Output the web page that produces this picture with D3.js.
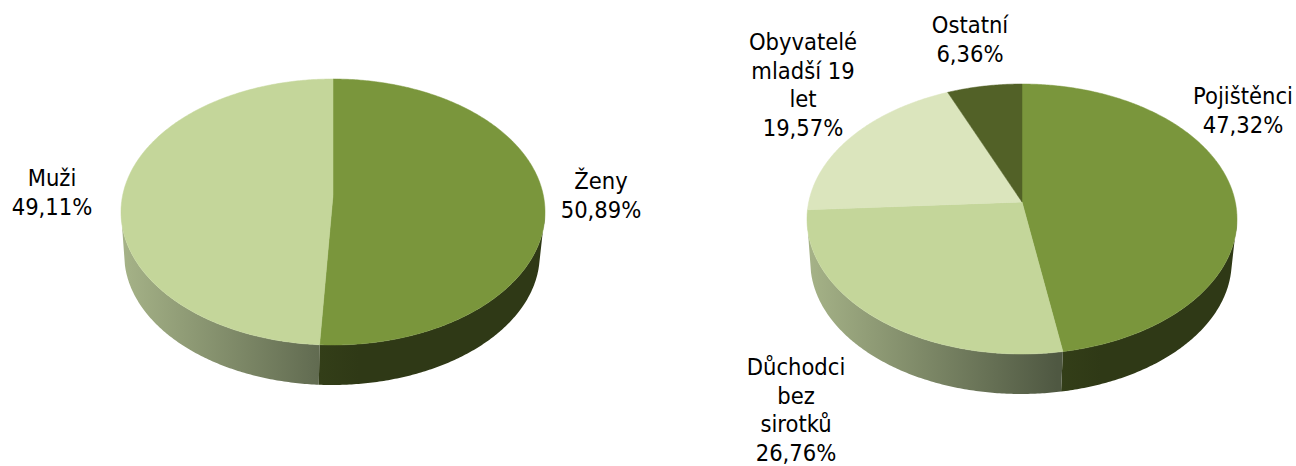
<!DOCTYPE html>
<html>
<head>
<meta charset="utf-8">
<script src="https://cdn.jsdelivr.net/npm/d3@7"></script>
<style>
  html, body { margin: 0; padding: 0; background: #fff; }
  svg { display: block; }
  text { font-family: "DejaVu Sans Condensed", "DejaVu Sans", sans-serif; font-stretch: condensed; font-size: 23.5px; fill: #000; text-anchor: middle; }
</style>
</head>
<body>
<svg width="1296" height="466"></svg>
<script>
// data, clockwise from 12 o'clock
const genderNames = [["Ženy"], ["Muži"]];
const genderValues = [50.89, 49.11];
const groupNames = [["Pojištěnci"], ["Důchodci", "bez", "sirotků"], ["Obyvatelé", "mladší 19", "let"], ["Ostatní"]];
const groupValues = [47.32, 26.76, 19.57, 6.36];

// layout: disc extent + label centre / first baseline
const genderLayout = { id: "g", cx: 333, rx: 212, top: 79, bottom: 345, labels: [[601, 189], [52, 186]] };
const groupLayout = { id: "h", cx: 1022, rx: 215, top: 84, bottom: 354, labels: [[1243, 104], [796, 375], [803, 50], [970, 33]] };

const topColors = ["#7a963c", "#c4d69a", "#dbe5bd", "#526127"];
const sideFrom = ["#333e18", "#a6b388"];
const sideTo = ["#2f3916", "#4f5842"];
const sideFade = [40, 250]; // px the wall gradient runs over

const perspective = 0.126; // back of the disc is further away
const depth = 40;
const bottomShrink = 0.98;
const bottomShift = -1;
const lineHeight = 28.7;

const svg = d3.select("svg");
const defs = svg.append("defs");
const fmt = d3.formatLocale({ decimal: ",", thousands: " ", grouping: [3], currency: ["", ""] }).format(".2f");
const pie = d3.pie().sort(null);
const line = d3.line();
const TAU = Math.PI * 2;

function drawPie(names, values, layout) {
  const p = perspective;
  const k = (layout.bottom - layout.top) * (1 - p * p) / 2;
  const a = layout.rx * Math.sqrt(1 - p * p);
  const apexY = layout.top + k / (1 + p);
  const dy = depth + (1 - bottomShrink) * k / (1 - p);

  const project = (t, s, offX, offY) => {
    const w = 1 + p * Math.cos(t);
    return [layout.cx + offX + a * s * Math.sin(t) / w, apexY + offY - k * s * Math.cos(t) / w];
  };
  const arcPoints = (t0, t1, s, offX, offY) => {
    const n = Math.max(2, Math.ceil((t1 - t0) / 0.01));
    return d3.range(n + 1).map(i => project(t0 + (t1 - t0) * i / n, s, offX, offY));
  };

  const slices = pie(values);
  const g = svg.append("g");

  // side wall, between the silhouette points of the top and bottom edge
  const wallStart = Math.acos(-p);
  const wallEnd = TAU - wallStart;
  const tangentGap = 0.08;
  slices.forEach((d, i) => {
    const t0 = Math.max(d.startAngle, wallStart);
    const t1 = Math.min(d.endAngle, wallEnd);
    if (t1 <= t0) return;
    const upper = arcPoints(t0, t1, 1, 0, 0);
    const lower = arcPoints(Math.max(d.startAngle, wallStart + tangentGap), Math.min(d.endAngle, wallEnd - tangentGap),
      bottomShrink, bottomShift, dy).reverse();
    const xs = upper.concat(lower).map(q => q[0]);
    const gradId = layout.id + "side" + i;
    const x1 = d3.min(xs);
    const grad = defs.append("linearGradient").attr("id", gradId)
      .attr("gradientUnits", "userSpaceOnUse")
      .attr("x1", x1).attr("x2", x1 + sideFade[i]).attr("y1", 0).attr("y2", 0);
    grad.append("stop").attr("offset", 0).attr("stop-color", sideFrom[i]);
    grad.append("stop").attr("offset", 1).attr("stop-color", sideTo[i]);
    g.append("path")
      .attr("d", line(upper.concat(lower)) + "Z")
      .attr("fill", `url(#${gradId})`)
      .attr("stroke", "none");
  });

  // top of the disc
  slices.forEach((d, i) => {
    const pts = [project(0, 0, 0, 0)].concat(arcPoints(d.startAngle, d.endAngle, 1, 0, 0));
    g.append("path")
      .attr("d", line(pts) + "Z")
      .attr("fill", topColors[i])
      .attr("stroke", topColors[i])
      .attr("stroke-width", 0.5);
  });

  // labels
  slices.forEach((d, i) => {
    const [x, y] = layout.labels[i];
    const text = g.append("text").attr("x", x).attr("y", y);
    names[i].concat(fmt(d.value) + "%").forEach((t, j) => {
      text.append("tspan").attr("x", x).attr("dy", j ? lineHeight : 0).text(t);
    });
  });
}

drawPie(genderNames, genderValues, genderLayout);
drawPie(groupNames, groupValues, groupLayout);
</script>
</body>
</html>
